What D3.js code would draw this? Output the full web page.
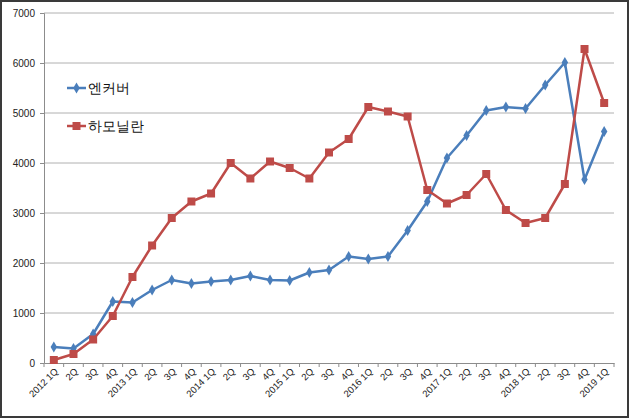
<!DOCTYPE html>
<html>
<head>
<meta charset="utf-8">
<script src="https://cdn.jsdelivr.net/npm/d3@7"></script>
<style>
  body { margin: 0; background: #fff; }
  text { font-family: "Liberation Sans", Arial, sans-serif; }
</style>
</head>
<body>
<script>
// quarters, 2012 1Q .. 2019 1Q
var quarters = ["2012 1Q","2Q","3Q","4Q","2013 1Q","2Q","3Q","4Q","2014 1Q","2Q","3Q","4Q",
                "2015 1Q","2Q","3Q","4Q","2016 1Q","2Q","3Q","4Q","2017 1Q","2Q","3Q","4Q",
                "2018 1Q","2Q","3Q","4Q","2019 1Q"];
var seriesNames = ["엔커버", "하모닐란"];
var encover = [320,290,580,1230,1210,1460,1660,1590,1630,1660,1740,1660,
               1650,1810,1860,2130,2080,2130,2650,3230,4100,4550,5050,5120,
               5090,5560,6010,3670,4630];
var harmonilan = [60,180,470,940,1720,2350,2900,3230,3390,4000,3690,4030,
                  3900,3690,4210,4480,5120,5030,4930,3460,3190,3360,3780,3060,
                  2800,2900,3580,6280,5200];
var yTicks = [0,1000,2000,3000,4000,5000,6000,7000];

var W = 630, H = 419;
var plotL = 44, plotR = 614, plotT = 13, plotB = 363;
var colors = ["#4a7ebb", "#be4b48"];

var svg = d3.select("body").append("svg")
    .attr("width", W).attr("height", H);

// outer frame
svg.append("rect")
    .attr("x", 1).attr("y", 1).attr("width", W - 3).attr("height", H - 3)
    .attr("fill", "#fff").attr("stroke", "#3a3a3a").attr("stroke-width", 2);

var x = d3.scaleBand().domain(d3.range(quarters.length)).range([plotL, plotR]);
var y = d3.scaleLinear().domain([0, 7000]).range([plotB, plotT]);

// gridlines
svg.selectAll(".grid")
    .data(yTicks.slice(1))
    .enter().append("line")
    .attr("x1", plotL).attr("x2", plotR)
    .attr("y1", function(d){ return y(d); })
    .attr("y2", function(d){ return y(d); })
    .attr("stroke", "#b0b0b0").attr("stroke-width", 1);

// y axis
var yAxis = svg.append("g")
    .attr("transform", "translate(" + plotL + ",0)")
    .call(d3.axisLeft(y).tickValues(yTicks).tickFormat(d3.format("d")).tickSize(4).tickPadding(5));
yAxis.select(".domain").attr("stroke", "#8c8c8c");
yAxis.selectAll(".tick line").attr("stroke", "#8c8c8c");
yAxis.selectAll("text").attr("font-size", 10).attr("fill", "#222");

// x axis
var xAxis = svg.append("g")
    .attr("transform", "translate(0," + plotB + ")")
    .call(d3.axisBottom(x).tickSize(0).tickFormat(function(i){ return quarters[i]; }));
xAxis.select(".domain").attr("stroke", "#8c8c8c");
xAxis.selectAll("text")
    .attr("font-size", 9.5).attr("fill", "#222")
    .attr("text-anchor", "end")
    .attr("dy", 0).attr("y", 0)
    .attr("transform", "translate(5,9) rotate(-45)");

// x tick marks at band boundaries
svg.selectAll(".xtick")
    .data(d3.range(quarters.length + 1))
    .enter().append("line")
    .attr("x1", function(i){ return plotL + i * x.step(); })
    .attr("x2", function(i){ return plotL + i * x.step(); })
    .attr("y1", plotB).attr("y2", plotB + 4)
    .attr("stroke", "#8c8c8c");

var cx = function(d, i){ return x(i) + x.bandwidth() / 2; };
var line = d3.line().x(cx).y(function(d){ return y(d); });

[encover, harmonilan].forEach(function(data, s){
    svg.append("path")
        .datum(data)
        .attr("d", line)
        .attr("fill", "none")
        .attr("stroke", colors[s])
        .attr("stroke-width", 2.5)
        .attr("stroke-linejoin", "round");

    var sym = s === 0 ? d3.symbolDiamond : d3.symbolSquare;
    var size = s === 0 ? 36 : 64;
    svg.selectAll(".m" + s)
        .data(data)
        .enter().append("path")
        .attr("d", d3.symbol().type(sym).size(size))
        .attr("transform", function(d, i){
            return "translate(" + cx(d, i) + "," + y(d) + ")";
        })
        .attr("fill", colors[s]);
});

// legend
var legY = [88, 126];
seriesNames.forEach(function(name, s){
    var g = svg.append("g").attr("transform", "translate(67," + legY[s] + ")");
    g.append("line").attr("x1", 0).attr("x2", 19).attr("y1", 0).attr("y2", 0)
        .attr("stroke", colors[s]).attr("stroke-width", 2.5);
    g.append("path")
        .attr("d", d3.symbol().type(s === 0 ? d3.symbolDiamond : d3.symbolSquare).size(s === 0 ? 36 : 64))
        .attr("transform", "translate(9.5,0)")
        .attr("fill", colors[s]);
    g.append("text").attr("x", 21).attr("y", 5)
        .attr("font-size", 14)
        .attr("font-family", "'Noto Sans CJK KR', sans-serif")
        .attr("fill", "#111")
        .text(name);
});
</script>
</body>
</html>
